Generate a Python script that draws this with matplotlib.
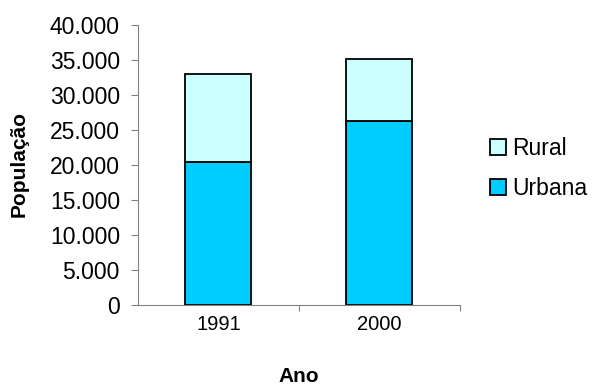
import matplotlib.pyplot as plt
from matplotlib.patches import Patch
from matplotlib.ticker import FuncFormatter

anos = ['1991', '2000']
urbana = [20400, 26300]
rural = [12600, 8800]

plt.rcParams['font.family'] = ['Liberation Sans', 'DejaVu Sans']

fig = plt.figure(figsize=(5.92, 3.85), dpi=100)
ax = fig.add_axes([0.233, 0.208, 0.544, 0.727])

x = range(len(anos))
ax.bar(x, urbana, width=0.41, color='#00CCFF', edgecolor='black', linewidth=1.3)
ax.bar(x, rural, width=0.41, bottom=urbana, color='#CCFFFF', edgecolor='black', linewidth=1.3)

ax.set_xlim(-0.5, 1.5)
ax.set_ylim(0, 40000)
ax.set_yticks(range(0, 40001, 5000))
ax.yaxis.set_major_formatter(FuncFormatter(lambda v, p: f'{int(v):,}'.replace(',', '.')))
ax.set_xticks([0.5, 1.5])
ax.set_xticks([0, 1], minor=True)
ax.set_xticklabels([])
ax.set_xticklabels(anos, minor=True)
ax.tick_params(axis='x', which='minor', length=0, labelsize=14.5, pad=7)
ax.tick_params(axis='x', which='major', length=4, color='#808080')
ax.tick_params(axis='y', length=5, color='#808080', labelsize=16.5, pad=8)

for s in ['top', 'right']:
    ax.spines[s].set_visible(False)
for s in ['left', 'bottom']:
    ax.spines[s].set_color('#808080')

fig.text(0.032, 0.573, 'População', rotation=90, ha='center', va='center',
         fontsize=15, fontweight='bold')
fig.text(0.504, 0.008, 'Ano', ha='center', va='baseline', fontsize=15, fontweight='bold')

handles = [Patch(facecolor='#CCFFFF', edgecolor='black', linewidth=1.3, label='Rural'),
           Patch(facecolor='#00CCFF', edgecolor='black', linewidth=1.3, label='Urbana')]
fig.legend(handles=handles, loc='center left', bbox_to_anchor=(0.8277, 0.562), frameon=False,
           fontsize=16.5, handlelength=0.68, handleheight=0.68, handletextpad=0.3,
           labelspacing=0.75, borderpad=0, borderaxespad=0)

fig.savefig('out.png', dpi=100)
